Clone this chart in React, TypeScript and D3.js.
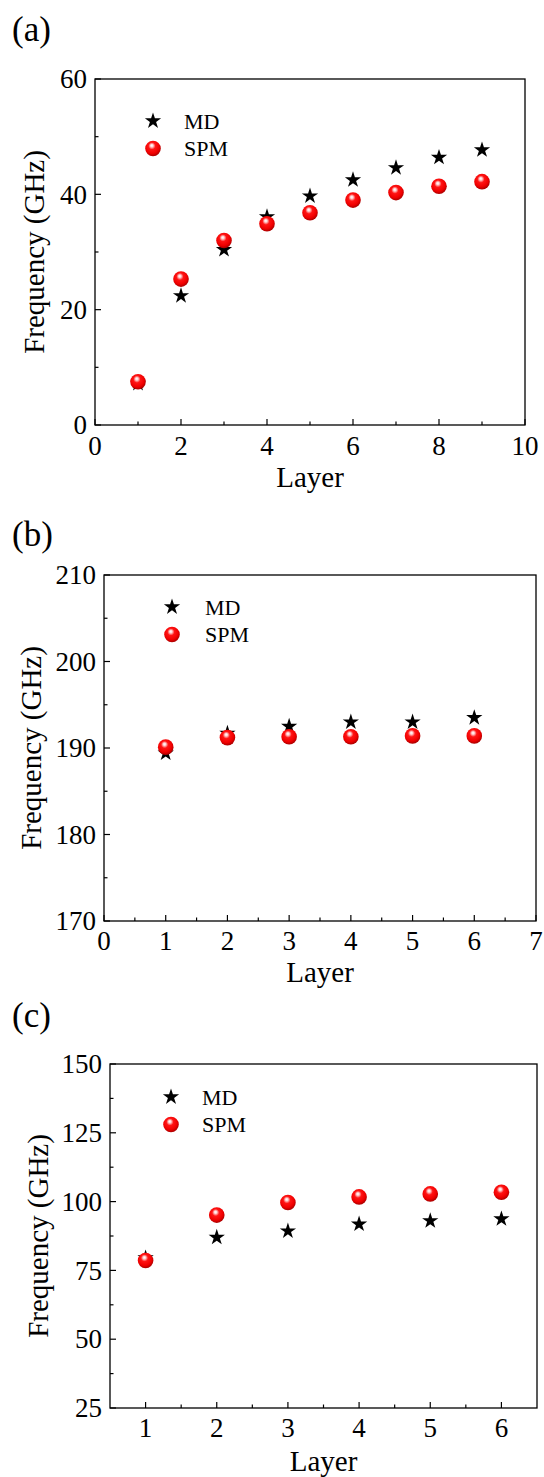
import React from "react";
import * as d3 from "d3";

// ---- data ----
const LAYERS_A = [1, 2, 3, 4, 5, 6, 7, 8, 9];
const MD_A = [7.2, 22.4, 30.4, 36.1, 39.7, 42.5, 44.6, 46.4, 47.7];
const SPM_A = [7.5, 25.3, 32.0, 34.9, 36.8, 39.0, 40.3, 41.4, 42.2];
const X_TICKS_A = [0, 2, 4, 6, 8, 10];
const X_MINOR_A = [1, 3, 5, 7, 9];
const Y_TICKS_A = [0, 20, 40, 60];
const Y_MINOR_A = [10, 30, 50];

const LAYERS_B = [1, 2, 3, 4, 5, 6];
const MD_B = [189.4, 191.7, 192.5, 193.0, 193.0, 193.5];
const SPM_B = [190.1, 191.2, 191.3, 191.3, 191.4, 191.4];
const X_TICKS_B = [0, 1, 2, 3, 4, 5, 6, 7];
const X_MINOR_B = [0.5, 1.5, 2.5, 3.5, 4.5, 5.5, 6.5];
const Y_TICKS_B = [170, 180, 190, 200, 210];
const Y_MINOR_B = [175, 185, 195, 205];

const LAYERS_C = [1, 2, 3, 4, 5, 6];
const MD_C = [79.5, 87.0, 89.3, 91.8, 93.0, 93.7];
const SPM_C = [78.6, 95.1, 99.7, 101.7, 102.8, 103.4];
const X_TICKS_C = [1, 2, 3, 4, 5, 6];
const X_MINOR_C = [1.5, 2.5, 3.5, 4.5, 5.5];
const Y_TICKS_C = [25, 50, 75, 100, 125, 150];
const Y_MINOR_C = [37.5, 62.5, 87.5, 112.5, 137.5];

const SERIES_NAMES = ["MD", "SPM"];

const FONT = '"Liberation Serif", "DejaVu Serif", serif';
const starPath = d3.symbol().type(d3.symbolStar).size(82)() as string;

type PanelCfg = {
  tag: string;
  tagY: number;
  left: number;
  top: number;
  right: number;
  bottom: number;
  xDomain: [number, number];
  yDomain: [number, number];
  xTicks: number[];
  xMinor: number[];
  yTicks: number[];
  yMinor: number[];
  layers: number[];
  md: number[];
  spm: number[];
  xTickY: number;
  xTitleY: number;
  yTitleX: number;
  legendX: number;
  legendTextX: number;
  legendY: number;
};

const PANELS: PanelCfg[] = [
  {
    tag: "(a)", tagY: 41,
    left: 95, top: 79, right: 525, bottom: 425,
    xDomain: [0, 10], yDomain: [0, 60],
    xTicks: X_TICKS_A, xMinor: X_MINOR_A, yTicks: Y_TICKS_A, yMinor: Y_MINOR_A,
    layers: LAYERS_A, md: MD_A, spm: SPM_A,
    xTickY: 455, xTitleY: 487, yTitleX: 44,
    legendX: 153, legendTextX: 184, legendY: 121,
  },
  {
    tag: "(b)", tagY: 546,
    left: 104, top: 575, right: 536, bottom: 921,
    xDomain: [0, 7], yDomain: [170, 210],
    xTicks: X_TICKS_B, xMinor: X_MINOR_B, yTicks: Y_TICKS_B, yMinor: Y_MINOR_B,
    layers: LAYERS_B, md: MD_B, spm: SPM_B,
    xTickY: 950, xTitleY: 982, yTitleX: 41,
    legendX: 172, legendTextX: 205, legendY: 607,
  },
  {
    tag: "(c)", tagY: 1027,
    left: 110, top: 1064, right: 537, bottom: 1408,
    xDomain: [0.5, 6.5], yDomain: [25, 150],
    xTicks: X_TICKS_C, xMinor: X_MINOR_C, yTicks: Y_TICKS_C, yMinor: Y_MINOR_C,
    layers: LAYERS_C, md: MD_C, spm: SPM_C,
    xTickY: 1437, xTitleY: 1471, yTitleX: 48,
    legendX: 171, legendTextX: 202, legendY: 1097,
  },
];

const textStyle = { fontFamily: FONT };

function Sphere({ x, y }: { x: number; y: number }) {
  return <circle cx={x} cy={y} r={7.8} fill="url(#sphereGrad)" />;
}

function Star({ x, y }: { x: number; y: number }) {
  return <path d={starPath} transform={`translate(${x},${y})`} fill="#000" />;
}

function Panel({ p }: { p: PanelCfg }) {
  const x = d3.scaleLinear().domain(p.xDomain).range([p.left, p.right]);
  const y = d3.scaleLinear().domain(p.yDomain).range([p.bottom, p.top]);
  const major = 6;
  const minor = 3.5;
  const cx = (p.left + p.right) / 2;
  const cy = (p.top + p.bottom) / 2;
  return (
    <g style={textStyle}>
      <text x={12} y={p.tagY} fontSize={35}>{p.tag}</text>
      {/* frame */}
      <rect x={p.left} y={p.top} width={p.right - p.left} height={p.bottom - p.top}
        fill="none" stroke="#000" strokeWidth={1.3} />
      {/* x ticks */}
      {p.xTicks.map((t) => (
        <g key={"xt" + t}>
          <line x1={x(t)} x2={x(t)} y1={p.bottom} y2={p.bottom - major} stroke="#000" strokeWidth={1.2} />
          <text x={x(t)} y={p.xTickY} textAnchor="middle" fontSize={27}>{t}</text>
        </g>
      ))}
      {p.xMinor.map((t) => (
        <line key={"xm" + t} x1={x(t)} x2={x(t)} y1={p.bottom} y2={p.bottom - minor} stroke="#000" strokeWidth={1.2} />
      ))}
      {/* y ticks */}
      {p.yTicks.map((t) => (
        <g key={"yt" + t}>
          <line x1={p.left} x2={p.left + major} y1={y(t)} y2={y(t)} stroke="#000" strokeWidth={1.2} />
          <text x={p.left - 8} y={y(t)} dy="0.34em" textAnchor="end" fontSize={27}>{t}</text>
        </g>
      ))}
      {p.yMinor.map((t) => (
        <line key={"ym" + t} x1={p.left} x2={p.left + minor} y1={y(t)} y2={y(t)} stroke="#000" strokeWidth={1.2} />
      ))}
      {/* axis titles */}
      <text x={cx} y={p.xTitleY} textAnchor="middle" fontSize={29}>Layer</text>
      <text transform={`translate(${p.yTitleX},${cy}) rotate(-90)`} textAnchor="middle" fontSize={29}>
        Frequency (GHz)
      </text>
      {/* data: MD stars under SPM spheres */}
      {p.layers.map((l, i) => <Star key={"md" + l} x={x(l)} y={y(p.md[i])} />)}
      {p.layers.map((l, i) => <Sphere key={"spm" + l} x={x(l)} y={y(p.spm[i])} />)}
      {/* legend */}
      <Star x={p.legendX} y={p.legendY} />
      <text x={p.legendTextX} y={p.legendY + 7.5} fontSize={22}>{SERIES_NAMES[0]}</text>
      <Sphere x={p.legendX} y={p.legendY + 27.5} />
      <text x={p.legendTextX} y={p.legendY + 35} fontSize={22}>{SERIES_NAMES[1]}</text>
    </g>
  );
}

export default function App() {
  return (
    <svg width={544} height={1477} style={{ position: "absolute", left: 0, top: 0, background: "#fff" }}>
      <defs>
        <radialGradient id="sphereGrad" cx="0.45" cy="0.4" r="0.6" fx="0.42" fy="0.3">
          <stop offset="0%" stopColor="#ffffff" />
          <stop offset="14%" stopColor="#ffd6d6" />
          <stop offset="38%" stopColor="#ff1414" />
          <stop offset="75%" stopColor="#f00000" />
          <stop offset="100%" stopColor="#a80000" />
        </radialGradient>
      </defs>
      <rect width={544} height={1477} fill="#fff" />
      {PANELS.map((p) => <Panel key={p.tag} p={p} />)}
    </svg>
  );
}
